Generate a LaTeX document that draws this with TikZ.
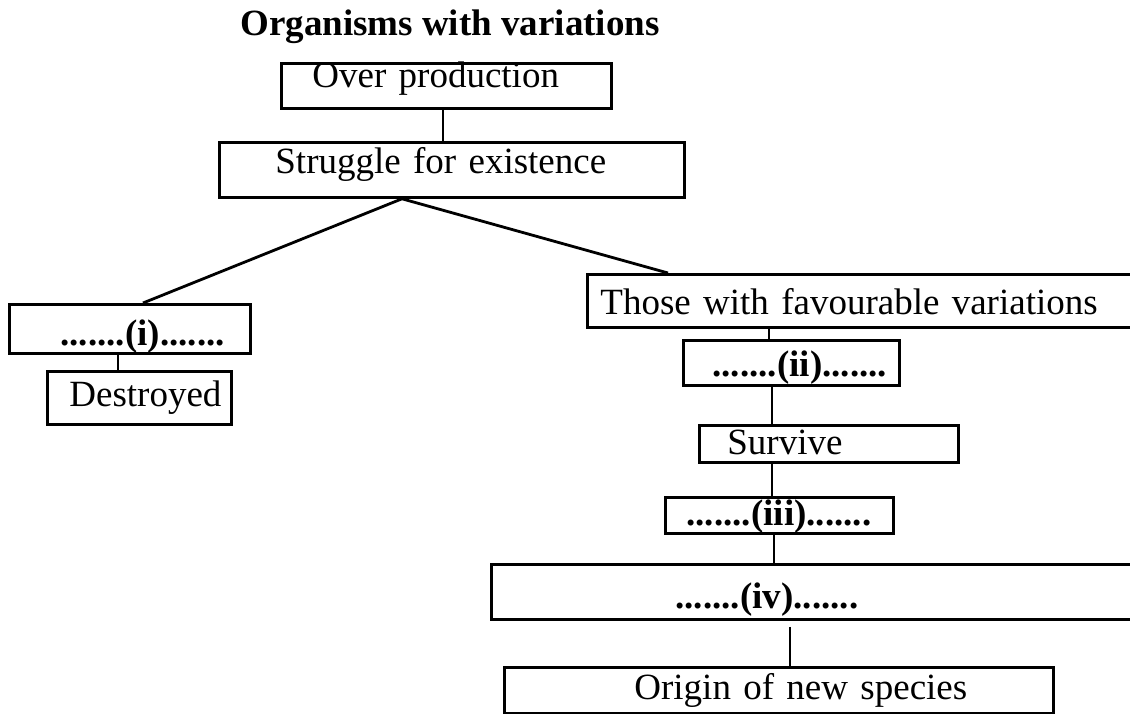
\documentclass[tikz,border=0pt]{standalone}
\usepackage{fontspec}
\setmainfont{Liberation Serif}
\tikzset{
  box/.style={draw, line width=2.8pt, anchor=north west, inner sep=0pt, align=left,
    font=\fontsize{37}{40}\selectfont},
  link/.style={line width=2.8pt},
}
\begin{document}
\begin{tikzpicture}[x=1pt, y=-1pt]
\clip (0,0) rectangle (1130,713);
\node[anchor=base, inner sep=0pt, font=\fontsize{37}{40}\selectfont\bfseries] (title) at (450,35) {Organisms with variations};
\node[box, text width=330pt, text height=24pt, text depth=21pt] (over) at (280,62) {\hspace*{31pt}Over production};
\node[box, text width=465pt, text height=31pt, text depth=24pt] (struggle) at (218,141) {\hspace*{56pt}Struggle for existence};
\node[box, text width=241pt, text height=41pt, text depth=8pt] (q1) at (8,303) {\hspace*{51pt}\bfseries.......(i).......};
\node[box, text width=184pt, text height=35pt, text depth=18pt] (destroyed) at (46,370) {\hspace*{22pt}Destroyed};
\node[box, text width=580pt, text height=40pt, text depth=13pt] (fav) at (586,273) {\hspace*{13pt}Those with favourable variations};
\node[box, text width=216pt, text height=36pt, text depth=9pt] (q2) at (682,339) {\hspace*{29pt}\bfseries.......(ii).......};
\node[box, text width=259pt, text height=29pt, text depth=8pt] (survive) at (698,424) {\hspace*{28pt}Survive};
\node[box, text width=228pt, text height=28pt, text depth=8pt] (q3) at (664,496) {\hspace*{21pt}\bfseries.......(iii).......};
\node[box, text width=660pt, text height=44pt, text depth=11pt] (q4) at (490,563) {\hspace*{184pt}\bfseries.......(iv).......};
\node[box, text width=549pt, text height=32pt, text depth=14pt] (origin) at (503,666) {\hspace*{130pt}Origin of new species};
\foreach \a/\ax/\b/\bx in {over/163/struggle/225, q1/110/destroyed/72, fav/183/q2/87,
    q2/90/survive/74, survive/74/q3/108, q3/110/q4/284}
  \draw[link] ([xshift=\ax pt]\a.south west) -- ([xshift=\bx pt]\b.north west);
\draw[link] ([xshift=300pt,yshift=-6pt]q4.south west) -- ([xshift=287pt]origin.north west);
\coordinate (fork) at ([xshift=184pt]struggle.south west);
\draw[link] ([xshift=135pt]q1.north west) -- (fork) -- ([xshift=82pt]fav.north west);
\end{tikzpicture}
\end{document}
